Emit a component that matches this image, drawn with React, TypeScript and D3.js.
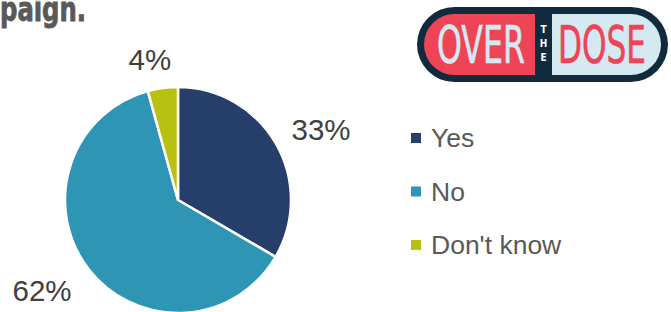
import React, { useEffect, useRef } from "react";
import * as d3 from "d3";

// Survey answers (share of respondents)
const categories = ["Yes", "No", "Don't know"];
const shares = [33.4, 62.3, 4.3];
const colors = ["#253e6a", "#2e95b4", "#b8c110"];

const titleTail = "paign.";

type Slice = { name: string; value: number; color: string };

const PieChart = () => {
    const svgRef = useRef<SVGSVGElement>(null);

    useEffect(() => {
        const width = 671;
        const height = 312;
        const svg = d3
            .select(svgRef.current)
            .attr("width", width)
            .attr("height", height)
            .attr("viewBox", `0 0 ${width} ${height}`);
        svg.selectAll("*").remove();

        const font = "'Liberation Sans', Arial, sans-serif";
        const narrow = "'Liberation Sans Narrow', 'DejaVu Sans Condensed', sans-serif";

        // cut-off title from the slide above
        svg.append("text")
            .attr("x", 0)
            .attr("y", 21)
            .attr("fill", "#595959")
            .attr("font-family", narrow)
            .attr("font-weight", "bold")
            .attr("font-size", 33)
            .attr("stroke", "#595959")
            .attr("stroke-width", 0.8)
            .attr("textLength", 86)
            .attr("lengthAdjust", "spacingAndGlyphs")
            .text(titleTail);

        const data: Slice[] = categories.map((c, i) => ({ name: c, value: shares[i], color: colors[i] }));

        const cx = 178;
        const cy = 200;
        const radius = 113;

        const pie = d3
            .pie<Slice>()
            .sort(null)
            .value((d) => d.value);
        const arcs = pie(data);

        const arc = d3
            .arc<d3.PieArcDatum<Slice>>()
            .innerRadius(0)
            .outerRadius(radius);

        const g = svg.append("g").attr("transform", `translate(${cx},${cy})`);

        g.selectAll("path")
            .data(arcs)
            .enter()
            .append("path")
            .attr("d", arc as any)
            .attr("fill", (d) => d.data.color)
            .attr("stroke", "#ffffff")
            .attr("stroke-width", 2.5)
            .attr("stroke-linejoin", "miter");

        // percentage labels outside the slices
        const labelArc = d3
            .arc<d3.PieArcDatum<Slice>>()
            .innerRadius(radius + 22)
            .outerRadius(radius + 22);
        const labelOffsets = [
            { dx: 26, dy: 7.5 },
            { dx: -29, dy: 19 },
            { dx: -10, dy: 4 },
        ];

        g.selectAll(".pct")
            .data(arcs)
            .enter()
            .append("text")
            .attr("class", "pct")
            .attr("x", (d, i) => labelArc.centroid(d)[0] + labelOffsets[i].dx)
            .attr("y", (d, i) => labelArc.centroid(d)[1] + labelOffsets[i].dy)
            .attr("text-anchor", "middle")
            .attr("fill", "#404040")
            .attr("font-family", font)
            .attr("font-size", 29.5)
            .text((d) => `${Math.round(d.data.value)}%`);

        // legend
        const legend = svg
            .append("g")
            .attr("transform", "translate(411,138)");
        const rows = legend
            .selectAll("g")
            .data(data)
            .enter()
            .append("g")
            .attr("transform", (d, i) => `translate(0,${i * 53.5})`);
        rows.append("rect")
            .attr("x", 0)
            .attr("y", -5)
            .attr("width", 10)
            .attr("height", 10)
            .attr("fill", (d) => d.color);
        rows.append("text")
            .attr("x", 20)
            .attr("y", 0)
            .attr("dy", "0.35em")
            .attr("fill", "#595959")
            .attr("font-family", font)
            .attr("font-size", 26.5)
            .text((d) => d.name);

        // "Over the Dose" logo
        const logo = svg.append("g");
        logo.append("rect")
            .attr("x", 417)
            .attr("y", 7)
            .attr("width", 251)
            .attr("height", 75)
            .attr("rx", 37.5)
            .attr("fill", "#0f2b3d");
        svg.append("defs")
            .append("clipPath")
            .attr("id", "pill-inner")
            .append("rect")
            .attr("x", 424)
            .attr("y", 14)
            .attr("width", 237)
            .attr("height", 61)
            .attr("rx", 30.5);
        const inner = logo.append("g").attr("clip-path", "url(#pill-inner)");
        inner.append("rect")
            .attr("x", 424)
            .attr("y", 14)
            .attr("width", 111)
            .attr("height", 61)
            .attr("fill", "#ef4456");
        inner.append("rect")
            .attr("x", 552)
            .attr("y", 14)
            .attr("width", 110)
            .attr("height", 61)
            .attr("fill", "#d5e9f2");

        logo.append("text")
            .attr("x", 437)
            .attr("y", 63)
            .attr("fill", "#d5e9f2")
            .attr("font-family", narrow)
            .attr("font-size", 52)
            .attr("stroke", "#d5e9f2")
            .attr("stroke-width", 0.6)
            .attr("textLength", 88)
            .attr("lengthAdjust", "spacingAndGlyphs")
            .text("OVER");
        logo.append("text")
            .attr("x", 558)
            .attr("y", 63)
            .attr("fill", "#ef4456")
            .attr("font-family", narrow)
            .attr("font-size", 52)
            .attr("stroke", "#ef4456")
            .attr("stroke-width", 0.6)
            .attr("textLength", 88)
            .attr("lengthAdjust", "spacingAndGlyphs")
            .text("DOSE");
        ["T", "H", "E"].forEach((ch, i) => {
            logo.append("text")
                .attr("x", 543.5)
                .attr("y", 33 + i * 14)
                .attr("text-anchor", "middle")
                .attr("fill", "#ffffff")
                .attr("font-family", narrow)
                .attr("font-weight", "bold")
                .attr("font-size", 10)
                .text(ch);
        });
    }, []);

    return (
        <svg
            ref={svgRef}
            style={{ position: "absolute", left: 0, top: 0, display: "block" }}
        ></svg>
    );
};

export default function App() {
    return <PieChart />;
}
